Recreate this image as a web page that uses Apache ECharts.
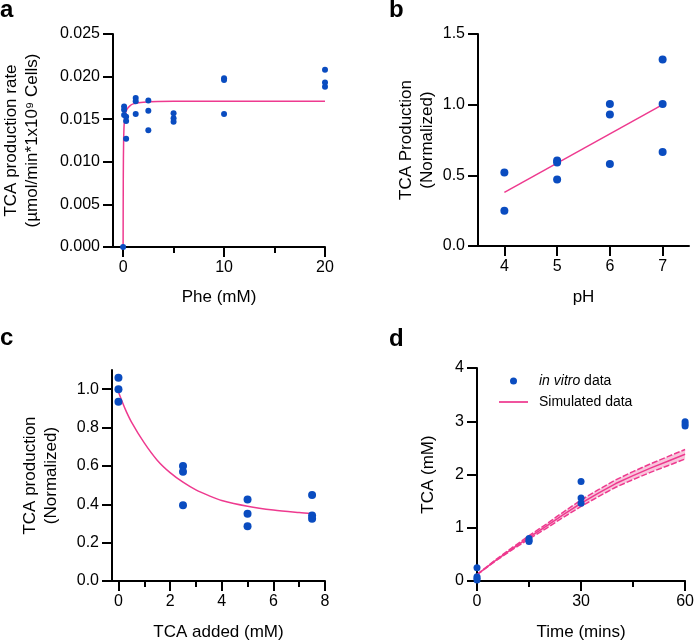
<!DOCTYPE html>
<html>
<head>
<meta charset="utf-8">
<script src="https://cdn.jsdelivr.net/npm/echarts@6/dist/echarts.min.js"></script>
<style>
html,body{margin:0;padding:0;background:#fff;}
#chart{width:697px;height:644px;}
</style>
</head>
<body>
<div id="chart"></div>
<script>
// ---- Panel a data ----
const aPheX = [0, 0.1, 0.1, 0.1, 0.3, 0.3, 0.3, 1.25, 1.25, 1.25, 2.5, 2.5, 2.5, 5, 5, 5, 10, 10, 10, 20, 20, 20];
const aRate = [0.0000, 0.0165, 0.0161, 0.0155, 0.0153, 0.0148, 0.0127, 0.0175, 0.0171, 0.0156, 0.0172, 0.0160, 0.0137, 0.0157, 0.0151, 0.0147, 0.0198, 0.0196, 0.0156, 0.0208, 0.0193, 0.0188];
const aFitX = [0, 0.02, 0.05, 0.1, 0.2, 0.4, 0.7, 1, 2, 5, 10, 20];
const aFitY = [0, 0.0085, 0.0122, 0.0143, 0.0155, 0.0162, 0.0166, 0.0168, 0.0170, 0.0171, 0.0171, 0.0171];
const aXTicks = [0, 10, 20];
const aXMinorTicks = [5, 15];

// ---- Panel b data ----
const bPH = [4, 4, 5, 5, 5, 6, 6, 6, 7, 7, 7];
const bVal = [0.52, 0.25, 0.605, 0.59, 0.47, 1.005, 0.93, 0.58, 1.32, 1.005, 0.665];
const bFitX = [4, 7];
const bFitY = [0.38, 1.0];
const bXTicks = [4, 5, 6, 7];

// ---- Panel c data ----
const cAdded = [0, 0, 0, 2.5, 2.5, 2.5, 5, 5, 5, 7.5, 7.5, 7.5];
const cProd = [1.06, 1.0, 0.935, 0.60, 0.57, 0.395, 0.425, 0.35, 0.285, 0.448, 0.342, 0.325];
const cFitX = [0, 0.25, 0.5, 1, 1.5, 2, 2.5, 3, 3.5, 4, 5, 6, 7, 7.5];
const cFitY = [0.985, 0.90, 0.83, 0.72, 0.63, 0.565, 0.515, 0.475, 0.445, 0.42, 0.39, 0.37, 0.357, 0.352];
const cXTicks = [0, 2, 4, 6, 8];
const cXMinorTicks = [1, 3, 5, 7];
const cYTicks = [0, 0.2, 0.4, 0.6, 0.8, 1.0];

// ---- Panel d data ----
const dTime = [0, 0, 0, 0, 15, 15, 15, 30, 30, 30, 60, 60, 60];
const dTCA = [0.25, 0.08, 0.05, 0.02, 0.80, 0.76, 0.74, 1.87, 1.56, 1.46, 2.99, 2.95, 2.91];
const dSimX = [0, 5, 10, 15, 20, 25, 30, 35, 40, 45, 50, 55, 60];
const dSimMid = [0.12, 0.37, 0.60, 0.82, 1.03, 1.25, 1.46, 1.65, 1.83, 1.98, 2.12, 2.25, 2.38];
const dSimUpper = [0.12, 0.38, 0.62, 0.85, 1.07, 1.30, 1.52, 1.715, 1.90, 2.055, 2.20, 2.335, 2.47];
const dSimLower = [0.12, 0.36, 0.58, 0.79, 0.99, 1.20, 1.40, 1.585, 1.76, 1.905, 2.04, 2.165, 2.29];
const dXTicks = [0, 30, 60];
const dXMinorTicks = [15, 45];

const BLUE = '#0a4cc0';
const PINK = '#ee3a8f';
const FONT = 'Liberation Sans, Arial, sans-serif';

const zip = (xs, ys) => xs.map((x, i) => [x, ys[i]]);

function majorX(grid, min, max, ticks, name, nameGap) {
  return {
    type: 'value', gridIndex: grid, min: min, max: max, position: 'bottom',
    name: name, nameLocation: 'middle', nameGap: nameGap,
    nameTextStyle: {fontSize: 17, color: '#000', fontFamily: FONT},
    axisLine: {show: true, onZero: false, lineStyle: {color: '#000', width: 2}},
    axisTick: {show: true, length: 10, customValues: ticks, lineStyle: {color: '#000', width: 2}},
    axisLabel: {show: true, customValues: ticks, margin: 13, fontSize: 16, color: '#000', fontFamily: FONT},
    splitLine: {show: false}
  };
}
function minorX(grid, min, max, ticks) {
  return {
    type: 'value', gridIndex: grid, min: min, max: max, position: 'bottom', offset: 0,
    axisLine: {show: false},
    axisTick: {show: true, length: 6, customValues: ticks, lineStyle: {color: '#000', width: 2}},
    axisLabel: {show: false},
    splitLine: {show: false}
  };
}
function yAx(grid, min, max, extra, name, nameGap, fmt) {
  return Object.assign({
    type: 'value', gridIndex: grid, min: min, max: max,
    name: name, nameLocation: 'middle', nameGap: nameGap,
    nameTextStyle: {fontSize: 17, color: '#000', fontFamily: FONT, lineHeight: 21, align: 'center'},
    axisLine: {show: true, onZero: false, lineStyle: {color: '#000', width: 2}},
    axisTick: {show: true, length: 10, lineStyle: {color: '#000', width: 2}},
    axisLabel: {show: true, margin: 13, fontSize: 16, color: '#000', fontFamily: FONT, formatter: fmt},
    splitLine: {show: false}
  }, extra);
}

const chart = echarts.init(document.getElementById('chart'), null, {renderer: 'canvas'});

const titleStyle = {fontSize: 24, fontWeight: 'bold', color: '#000', fontFamily: FONT};
const option = {
  backgroundColor: '#fff',
  animation: false,
  title: [
    {text: 'a', left: 0, top: -2, padding: 0, textStyle: titleStyle},
    {text: 'b', left: 389, top: -2, padding: 0, textStyle: titleStyle},
    {text: 'c', left: 0, top: 326, padding: 0, textStyle: titleStyle},
    {text: 'd', left: 389, top: 327, padding: 0, textStyle: titleStyle}
  ],
  grid: [
    {left: 113, top: 34, width: 212, height: 213},
    {left: 478, top: 34, width: 211, height: 212},
    {left: 112, top: 370, width: 213, height: 211},
    {left: 477, top: 368, width: 211, height: 213}
  ],
  legend: {
    orient: 'vertical', left: 494, top: 369,
    itemWidth: 29, itemHeight: 7, itemGap: 7,
    symbolKeepAspect: true,
    data: [
      {name: 'in vitro data', icon: 'circle'},
      {name: 'Simulated data', icon: 'path://M0,0L100,0L100,6L0,6Z'}
    ],
    formatter: function (n) { return n === 'in vitro data' ? '{i|in vitro} data' : n; },
    textStyle: {fontSize: 14, color: '#000', fontFamily: FONT, padding: [0, 0, 0, 6],
      rich: {i: {fontStyle: 'italic', fontSize: 14, color: '#000', fontFamily: FONT}}}
  },
  xAxis: [
    majorX(0, -1, 20, aXTicks, 'Phe (mM)', 42),
    minorX(0, -1, 20, aXMinorTicks),
    majorX(1, 3.5, 7.5, bXTicks, 'pH', 43),
    majorX(2, -0.25, 8, cXTicks, 'TCA added (mM)', 43),
    minorX(2, -0.25, 8, cXMinorTicks),
    majorX(3, 0, 60, dXTicks, 'Time (mins)', 43),
    minorX(3, 0, 60, dXMinorTicks)
  ],
  yAxis: [
    yAx(0, 0, 0.025, {interval: 0.005}, 'TCA production rate\n(µmol/min*1x10⁹ Cells)', 70, v => v.toFixed(3)),
    yAx(1, 0, 1.5, {interval: 0.5}, 'TCA Production\n(Normalized)', 40, v => v.toFixed(1)),
    yAx(2, 0, 1.1, {axisTick: {show: true, length: 10, customValues: cYTicks, lineStyle: {color: '#000', width: 2}},
      axisLabel: {show: true, customValues: cYTicks, margin: 13, fontSize: 16, color: '#000', fontFamily: FONT, formatter: v => v.toFixed(1)}},
      'TCA production\n(Normalized)', 50, v => v.toFixed(1)),
    yAx(3, 0, 4, {interval: 1}, 'TCA (mM)', 38, v => String(v))
  ],
  series: [
    // a
    {type: 'line', xAxisIndex: 0, yAxisIndex: 0, data: zip(aFitX, aFitY), symbol: 'none', smooth: 0.3,
      lineStyle: {color: PINK, width: 1.5}, z: 2, clip: false},
    {type: 'scatter', xAxisIndex: 0, yAxisIndex: 0, data: zip(aPheX, aRate), symbolSize: 6,
      itemStyle: {color: BLUE, opacity: 1}, z: 3, clip: false},
    // b
    {type: 'line', xAxisIndex: 2, yAxisIndex: 1, data: zip(bFitX, bFitY), symbol: 'none',
      lineStyle: {color: PINK, width: 1.5}, z: 2},
    {type: 'scatter', xAxisIndex: 2, yAxisIndex: 1, data: zip(bPH, bVal), symbolSize: 8,
      itemStyle: {color: BLUE, opacity: 1}, z: 3, clip: false},
    // c
    {type: 'line', xAxisIndex: 3, yAxisIndex: 2, data: zip(cFitX, cFitY), symbol: 'none', smooth: 0.3,
      lineStyle: {color: PINK, width: 1.5}, z: 2, clip: false},
    {type: 'scatter', xAxisIndex: 3, yAxisIndex: 2, data: zip(cAdded, cProd), symbolSize: 8,
      itemStyle: {color: BLUE, opacity: 1}, z: 3, clip: false},
    // d : band fill between lower and upper simulated curves
    {name: 'sim-band', type: 'custom', xAxisIndex: 5, yAxisIndex: 3, z: 1, clip: false,
      data: dSimX.map((x, i) => [x, dSimLower[i], dSimUpper[i]]),
      encode: {x: 0, y: [1, 2]},
      renderItem: function (params, api) {
        if (params.dataIndex !== 0) return null;
        const pts = [];
        for (let i = 0; i < dSimX.length; i++) pts.push(api.coord([dSimX[i], dSimUpper[i]]));
        for (let i = dSimX.length - 1; i >= 0; i--) pts.push(api.coord([dSimX[i], dSimLower[i]]));
        return {type: 'polygon', shape: {points: pts}, style: {fill: '#f8c6dc'}};
      }},
    {name: 'sim-lower', type: 'line', xAxisIndex: 5, yAxisIndex: 3, data: zip(dSimX, dSimLower),
      symbol: 'none', lineStyle: {color: PINK, width: 1.5, type: [6, 2]}, z: 2, clip: false},
    {name: 'sim-upper', type: 'line', xAxisIndex: 5, yAxisIndex: 3, data: zip(dSimX, dSimUpper),
      symbol: 'none', lineStyle: {color: PINK, width: 1.5, type: [6, 2]}, z: 2, clip: false},
    {name: 'Simulated data', type: 'line', xAxisIndex: 5, yAxisIndex: 3, data: zip(dSimX, dSimMid),
      symbol: 'none', lineStyle: {color: PINK, width: 1.5}, itemStyle: {color: PINK}, z: 2, clip: false},
    {name: 'in vitro data', type: 'scatter', xAxisIndex: 5, yAxisIndex: 3, data: zip(dTime, dTCA), symbolSize: 7,
      itemStyle: {color: BLUE, opacity: 1}, z: 3, clip: false}
  ]
};
chart.setOption(option);
</script>
</body>
</html>
